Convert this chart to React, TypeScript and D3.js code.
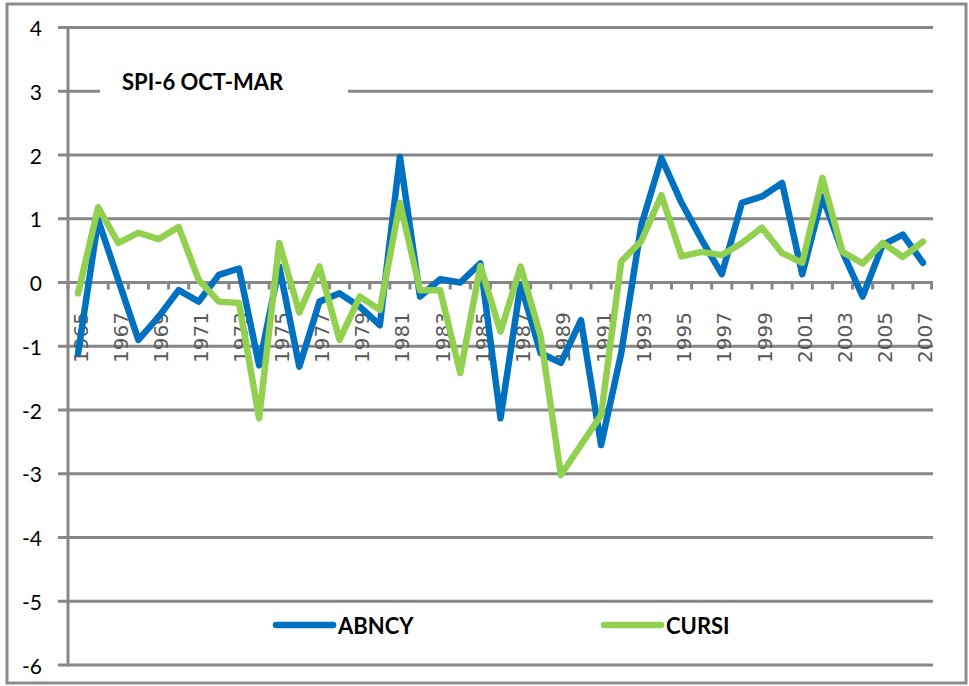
import React from "react";
import * as d3 from "d3";

const years = [
  "1965","1966","1967","1968","1969","1970","1971","1972","1973","1974",
  "1975","1976","1977","1978","1979","1980","1981","1982","1983","1984",
  "1985","1986","1987","1988","1989","1990","1991","1992","1993","1994",
  "1995","1996","1997","1998","1999","2000","2001","2002","2003","2004",
  "2005","2006","2007",
];

const abncy = [
  -1.11, 0.98, 0.04, -0.9, -0.54, -0.12, -0.3, 0.12, 0.22, -1.3,
  0.25, -1.32, -0.3, -0.17, -0.38, -0.67, 1.97, -0.22, 0.05, 0.0,
  0.3, -2.13, -0.03, -1.11, -1.26, -0.59, -2.55, -1.11, 0.9, 1.95,
  1.25, 0.67, 0.13, 1.25, 1.35, 1.56, 0.13, 1.35, 0.48, -0.22,
  0.59, 0.75, 0.31,
];

const cursi = [
  -0.17, 1.18, 0.62, 0.78, 0.68, 0.87, 0.04, -0.3, -0.32, -2.13,
  0.62, -0.47, 0.25, -0.9, -0.22, -0.43, 1.25, -0.12, -0.12, -1.42,
  0.26, -0.77, 0.25, -0.85, -3.02, -2.55, -2.08, 0.33, 0.65, 1.37,
  0.41, 0.48, 0.43, 0.62, 0.86, 0.46, 0.31, 1.64, 0.48, 0.3,
  0.62, 0.4, 0.64,
];

const yTicks = [4, 3, 2, 1, 0, -1, -2, -3, -4, -5, -6];
const seriesNames = ["ABNCY", "CURSI"];
const seriesColors = ["#0070C0", "#92D050"];
const title = "SPI-6 OCT-MAR";

export default function App() {
  const W = 969;
  const H = 686;
  const left = 68;
  const right = 933;
  const top = 27.5;
  const bottom = 665;
  const x = d3.scaleBand<string>().domain(years).range([left, right]);
  const y = d3.scaleLinear().domain([-6, 4]).range([bottom, top]);
  const cx = (yr: string) => (x(yr) as number) + x.bandwidth() / 2;
  const line = d3
    .line<number>()
    .x((_, i) => cx(years[i]))
    .y((d) => y(d));
  const grid = "#878787";
  const y0 = y(0);

  return (
    <svg
      width={W}
      height={H}
      style={{ position: "absolute", left: 0, top: 0, background: "#fff" }}
    >
      <rect x={0} y={0} width={W} height={H} fill="#fff" />
      <rect x={7} y={4} width={959} height={679} fill="#fff" stroke="#8c8c8c" strokeWidth={3} />
      {yTicks.map((t) => (
        <line key={t} x1={58} x2={right} y1={y(t)} y2={y(t)} stroke={grid} strokeWidth={3} />
      ))}
      <line x1={left} x2={left} y1={top - 1.5} y2={bottom + 1.5} stroke={grid} strokeWidth={3} />
      {years.map((yr) => (
        <line key={yr} x1={x(yr) as number} x2={x(yr) as number} y1={y0} y2={y0 + 7} stroke={grid} strokeWidth={3} />
      ))}
      <line x1={right - 1.5} x2={right - 1.5} y1={y0} y2={y0 + 7} stroke={grid} strokeWidth={3} />
      {yTicks.map((t) => (
        <text
          key={"l" + t}
          x={42}
          y={y(t)}
          textAnchor="end"
          dominantBaseline="central"
          fontFamily="Lato, sans-serif"
          fontSize={21}
          fill="#000"
        >
          {t}
        </text>
      ))}
      {years.map((yr, i) =>
        i % 2 === 0 ? (
          <text
            key={"x" + yr}
            transform={`translate(${cx(yr) + 2.5},${312}) rotate(-90)`}
            textAnchor="end"
            dominantBaseline="central"
            fontFamily="'DejaVu Sans', sans-serif"
            fontSize={20}
            fill="#595959"
          >
            {yr}
          </text>
        ) : null
      )}
      <rect x={100} y={68} width={248} height={44} fill="#fff" />
      <text x={122} y={90} fontFamily="Lato, sans-serif" fontWeight="bold" fontSize={22} fill="#000">
        {title}
      </text>
      {[abncy, cursi].map((s, k) => (
        <path
          key={k}
          d={line(s) as string}
          fill="none"
          stroke={seriesColors[k]}
          strokeWidth={6.5}
          strokeLinejoin="round"
          strokeLinecap="round"
        />
      ))}
      {seriesNames.map((n, k) => {
        const lx = [276, 604][k];
        return (
          <g key={n}>
            <line x1={lx} x2={lx + 57} y1={625} y2={625} stroke={seriesColors[k]} strokeWidth={6.5} strokeLinecap="round" />
            <text x={lx + 62} y={625} dominantBaseline="central" fontFamily="Lato, sans-serif" fontWeight="bold" fontSize={22} fill="#000">
              {n}
            </text>
          </g>
        );
      })}
    </svg>
  );
}
